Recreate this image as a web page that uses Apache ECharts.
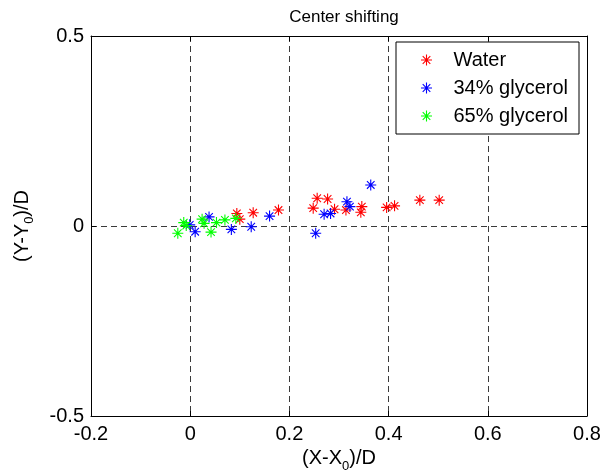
<!DOCTYPE html>
<html>
<head>
<meta charset="utf-8">
<script src="https://cdn.jsdelivr.net/npm/echarts@6/dist/echarts.min.js"></script>
<style>
  html, body { margin: 0; padding: 0; background: #fff; }
  #chart { width: 601px; height: 476px; }
</style>
</head>
<body>
<div id="chart"></div>
<script>
// Normalised centre displacement of the jet, per fluid
const seriesNames = ['Water', '34% glycerol', '65% glycerol'];
const seriesColors = ['#ff0000', '#0000ff', '#00ff00'];

const waterX = [0.094, 0.100, 0.127, 0.178, 0.256, 0.277, 0.248, 0.291, 0.314, 0.346, 0.344, 0.396, 0.412, 0.463, 0.502];
const waterY = [0.033, 0.018, 0.035, 0.042, 0.073, 0.071, 0.047, 0.044, 0.042, 0.051, 0.036, 0.049, 0.053, 0.068, 0.068];

const gly34X = [-0.001, 0.010, 0.038, 0.083, 0.123, 0.160, 0.270, 0.283, 0.316, 0.322, 0.253, 0.364];
const gly34Y = [0.003, -0.015, 0.024, -0.009, -0.002, 0.026, 0.031, 0.033, 0.064, 0.051, -0.019, 0.108];

const gly65X = [-0.013, -0.025, 0.024, 0.028, 0.042, 0.053, 0.070, 0.092, -0.008];
const gly65Y = [0.009, -0.019, 0.018, 0.007, -0.016, 0.009, 0.016, 0.020, 0.001];

const xTicks = { min: -0.2, max: 0.8, step: 0.2 };
const yTicks = { min: -0.5, max: 0.5, step: 0.5 };

// eight-armed star marker, built from four thin filled bars
const STAR = 'path://M0 45 L100 45 L100 55 L0 55 Z M45 0 L55 0 L55 100 L45 100 Z ' +
             'M12 19 L19 12 L88 81 L81 88 Z M81 12 L88 19 L19 88 L12 81 Z';

const FONT = 'Liberation Sans, Arial, Helvetica, sans-serif';

function pairs(xs, ys) { return xs.map((x, i) => [x, ys[i]]); }

const allData = [pairs(waterX, waterY), pairs(gly34X, gly34Y), pairs(gly65X, gly65Y)];

const chart = echarts.init(document.getElementById('chart'), null, { renderer: 'canvas' });

const dashed = { show: true, lineStyle: { color: '#3a3a3a', type: [6, 4], width: 1 } };
const blackLine = { show: true, onZero: false, lineStyle: { color: '#000', width: 1 } };
const tickIn = { show: true, inside: true, length: 5, lineStyle: { color: '#000', width: 1 } };
const labelStyle = { color: '#000', fontSize: 20, fontFamily: FONT };

const nameRich = {
  m: { fontSize: 20, fontFamily: FONT, color: '#000', lineHeight: 28, verticalAlign: 'middle' },
  s: { fontSize: 13, fontFamily: FONT, color: '#000', lineHeight: 13, verticalAlign: 'bottom' }
};

chart.setOption({
  animation: false,
  backgroundColor: '#fff',
  title: {
    text: 'Center shifting',
    left: 339, top: 4, textAlign: 'center',
    textStyle: { color: '#000', fontSize: 17, fontWeight: 'normal', fontFamily: FONT }
  },
  grid: { left: 91, right: 14, top: 36, bottom: 60, containLabel: false, outerBoundsMode: 'none' },
  legend: {
    orient: 'vertical',
    left: 396, top: 42,
    padding: [8, 11, 8, 25],
    itemGap: 8,
    itemWidth: 44, itemHeight: 11,
    backgroundColor: '#fff',
    borderColor: '#000', borderWidth: 1,
    textStyle: { color: '#000', fontSize: 20, fontFamily: FONT },
    data: seriesNames.map((n, i) => ({ name: n, icon: STAR, itemStyle: { color: seriesColors[i] } }))
  },
  xAxis: [
    {
      type: 'value', position: 'bottom',
      min: xTicks.min, max: xTicks.max, interval: xTicks.step,
      axisLine: blackLine, axisTick: tickIn,
      axisLabel: Object.assign({ margin: 8 }, labelStyle),
      splitLine: dashed,
      name: '{m|(X-X}{s|0}{m|)/D}',
      nameLocation: 'middle', nameGap: 28,
      nameTextStyle: { rich: nameRich }
    },
    {
      type: 'value', position: 'top',
      min: xTicks.min, max: xTicks.max, interval: xTicks.step,
      axisLine: blackLine, axisTick: tickIn,
      axisLabel: { show: false }, splitLine: { show: false }
    }
  ],
  yAxis: [
    {
      type: 'value', position: 'left',
      min: yTicks.min, max: yTicks.max, interval: yTicks.step,
      axisLine: blackLine, axisTick: tickIn,
      axisLabel: Object.assign({ margin: 7 }, labelStyle),
      splitLine: dashed,
      name: '{m|(Y-Y}{s|0}{m|)/D}',
      nameLocation: 'middle', nameRotate: 90, nameGap: 55,
      nameTextStyle: { rich: nameRich }
    },
    {
      type: 'value', position: 'right',
      min: yTicks.min, max: yTicks.max, interval: yTicks.step,
      axisLine: blackLine, axisTick: tickIn,
      axisLabel: { show: false }, splitLine: { show: false }
    }
  ],
  series: seriesNames.map((n, i) => ({
    name: n,
    type: 'scatter',
    xAxisIndex: 0, yAxisIndex: 0,
    symbol: STAR,
    symbolSize: 11,
    symbolKeepAspect: true,
    itemStyle: { color: seriesColors[i], opacity: 1 },
    emphasis: { disabled: true },
    data: allData[i]
  }))
});
</script>
</body>
</html>
